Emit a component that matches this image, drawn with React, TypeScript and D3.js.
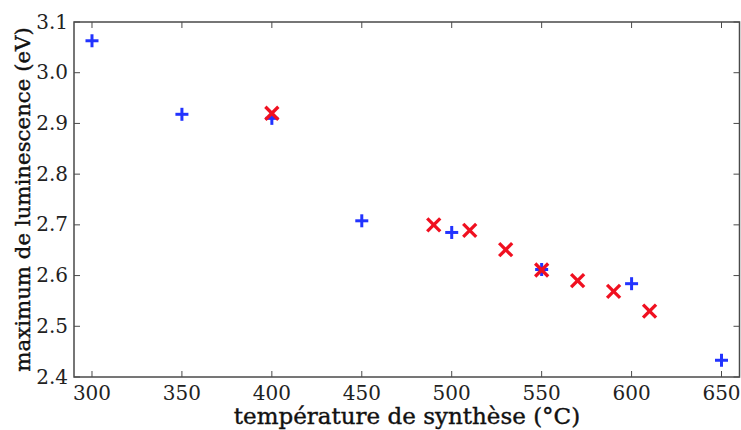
import React from "react";
import * as d3 from "d3";

const blueT = [300, 350, 400, 450, 500, 550, 600, 650];
const blueV = [3.063, 2.918, 2.91, 2.708, 2.685, 2.612, 2.584, 2.433];
const redT = [400, 490, 510, 530, 550, 570, 590, 610];
const redV = [2.92, 2.7, 2.689, 2.651, 2.611, 2.59, 2.569, 2.53];
const xTicks = [300, 350, 400, 450, 500, 550, 600, 650];
const yTicks = [2.4, 2.5, 2.6, 2.7, 2.8, 2.9, 3.0, 3.1];

const W = 741, H = 430;
const L = 74, R = 739.5, T = 22, B = 377;
const FONT = "DejaVu Serif";

export default function App() {
  const x = d3.scaleLinear().domain([290, 660]).range([L, R]);
  const y = d3.scaleLinear().domain([2.4, 3.1]).range([B, T]);
  const axisColor = "#4a4a4a";
  const tl = 6;
  const ps = 6.5;
  const xs = 6.5;
  return (
    <svg width={W} height={H} style={{ position: "absolute", left: 0, top: 0, background: "#fff" }}>
      <rect x={0} y={0} width={W} height={H} fill="#fff" />
      {xTicks.map((t) => (
        <g key={"xt" + t}>
          <line x1={x(t)} x2={x(t)} y1={B} y2={B - tl} stroke={axisColor} strokeWidth={1} />
          <line x1={x(t)} x2={x(t)} y1={T} y2={T + tl} stroke={axisColor} strokeWidth={1} />
          <text x={x(t)} y={B + 23} textAnchor="middle" fontFamily={FONT} fontSize={20} fill="#222">
            {t}
          </text>
        </g>
      ))}
      {yTicks.map((t) => (
        <g key={"yt" + t}>
          <line x1={L} x2={L + tl} y1={y(t)} y2={y(t)} stroke={axisColor} strokeWidth={1} />
          <line x1={R} x2={R - tl} y1={y(t)} y2={y(t)} stroke={axisColor} strokeWidth={1} />
          <text x={L - 6} y={y(t) + 6.5} textAnchor="end" fontFamily={FONT} fontSize={20} fill="#222">
            {t.toFixed(1)}
          </text>
        </g>
      ))}
      <rect x={L} y={T} width={R - L} height={B - T} fill="none" stroke={axisColor} strokeWidth={1.5} />
      {blueT.map((t, i) => (
        <g key={"b" + i} stroke="#2233ff" strokeWidth={3}>
          <line x1={x(t) - ps} x2={x(t) + ps} y1={y(blueV[i])} y2={y(blueV[i])} />
          <line x1={x(t)} x2={x(t)} y1={y(blueV[i]) - ps} y2={y(blueV[i]) + ps} />
        </g>
      ))}
      {redT.map((t, i) => (
        <g key={"r" + i} stroke="#f01020" strokeWidth={3.3}>
          <line x1={x(t) - xs} x2={x(t) + xs} y1={y(redV[i]) - xs} y2={y(redV[i]) + xs} />
          <line x1={x(t) - xs} x2={x(t) + xs} y1={y(redV[i]) + xs} y2={y(redV[i]) - xs} />
        </g>
      ))}
      <text x={407} y={424} textAnchor="middle" fontFamily={FONT} fontSize={23} fill="#111" stroke="#111" strokeWidth={0.4}>
        température de synthèse (°C)
      </text>
      <text
        transform={`translate(30, ${(T + B) / 2 + 0}) rotate(-90)`}
        textAnchor="middle"
        fontFamily={FONT}
        fontSize={21.3}
        fill="#111"
        stroke="#111"
        strokeWidth={0.4}
      >
        maximum de luminescence (eV)
      </text>
    </svg>
  );
}
